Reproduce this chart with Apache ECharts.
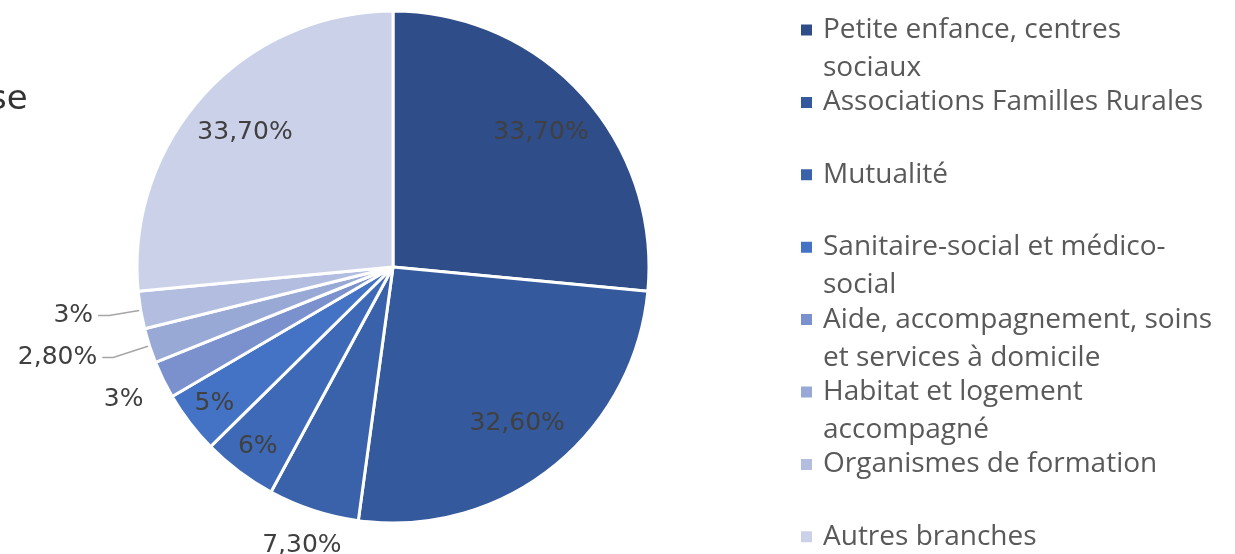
<!DOCTYPE html>
<html>
<head>
<meta charset="utf-8">
<script src="https://cdn.jsdelivr.net/npm/echarts@6/dist/echarts.min.js"></script>
<style>
  html, body { margin: 0; padding: 0; background: #fff; }
  #chart { width: 1235px; height: 554px; }
</style>
</head>
<body>
<div id="chart"></div>
<script>
// slices, clockwise from 12 o'clock
var names = [
    'Petite enfance, centres sociaux',
    'Associations Familles Rurales',
    'Mutualité',
    '',
    'Sanitaire-social et médico-social',
    'Aide, accompagnement, soins et services à domicile',
    'Habitat et logement accompagné',
    'Organismes de formation',
    'Autres branches'
];
var values = [33.7, 32.6, 7.3, 6, 5, 3, 2.8, 3, 33.7];

var legendNames = [
    'Petite enfance, centres sociaux',
    'Associations Familles Rurales',
    'Mutualité',
    'Sanitaire-social et médico-social',
    'Aide, accompagnement, soins et services à domicile',
    'Habitat et logement accompagné',
    'Organismes de formation',
    'Autres branches'
];
// blank first line + text + second line: the middle line sits on the marker
var legendLabels = [
    ' \nPetite enfance, centres\nsociaux',
    ' \nAssociations Familles Rurales\n ',
    ' \nMutualité\n ',
    ' \nSanitaire-social et médico-\nsocial',
    ' \nAide, accompagnement, soins\net services à domicile',
    ' \nHabitat et logement\naccompagné',
    ' \nOrganismes de formation\n ',
    ' \nAutres branches\n '
];

var colors = ['#2f4d88', '#34599c', '#3a62aa', '#3d69b6', '#4472c4', '#7a91cd', '#98a9d6', '#b2bde0', '#cbd1e9'];

// label placement groups (transparent rings carry the labels)
var labelRings = [
    { idx: [0, 1, 8], radius: [180, 214] },
    { idx: [3, 4], radius: [206, 238] },
    { idx: [2], radius: [276, 304] },
    { idx: [5], radius: [284, 310] }
];
var lineIdx = [6, 7];
var lineLen = { 6: 38, 7: 32 };

function fmt(v) {
    if (v % 1 === 0) return v + '%';
    return v.toFixed(2).replace('.', ',') + '%';
}

var labelFont = {
    fontFamily: 'DejaVu Sans',
    fontSize: 25,
    color: '#404040',
    formatter: function (p) { return fmt(p.value); }
};

var chartDom = document.getElementById('chart');
var myChart = echarts.init(chartDom);

var mainData = values.map(function (v, i) {
    var d = { value: v, name: names[i], itemStyle: { color: colors[i] } };
    if (lineIdx.indexOf(i) >= 0) {
        d.label = { show: true };
        d.labelLine = { show: true, length: lineLen[i], length2: 11 };
    }
    return d;
});

var series = [
    {
        type: 'pie',
        center: [393, 267],
        radius: 256,
        startAngle: 90,
        avoidLabelOverlap: false,
        silent: true,
        itemStyle: { borderColor: '#fff', borderWidth: 3 },
        label: Object.assign({ show: false, position: 'outside', distanceToLabelLine: 5 }, labelFont),
        labelLine: { show: false, lineStyle: { color: '#a6a6a6', width: 1.5 } },
        data: mainData
    }
];

labelRings.forEach(function (ring) {
    series.push({
        type: 'pie',
        center: [393, 267],
        radius: ring.radius,
        startAngle: 90,
        silent: true,
        legendHoverLink: false,
        itemStyle: { color: 'rgba(0,0,0,0)', borderWidth: 0 },
        label: Object.assign({ position: 'inside' }, labelFont),
        labelLine: { show: false },
        data: values.map(function (v, i) {
            return { value: v, name: names[i], label: { show: ring.idx.indexOf(i) >= 0 } };
        })
    });
});

var option = {
    animation: false,
    title: {
        text: 'se',
        left: -11,
        top: 83,
        padding: 0,
        textStyle: { fontFamily: 'DejaVu Sans', fontSize: 34, fontWeight: 'normal', color: '#333' }
    },
    legend: {
        orient: 'vertical',
        left: 799,
        top: -27,
        height: 800,
        padding: 0,
        itemWidth: 13,
        itemHeight: 13,
        itemGap: -41.6,
        icon: 'rect',
        selectedMode: false,
        data: legendNames,
        formatter: function (name) {
            return legendLabels[legendNames.indexOf(name)];
        },
        textStyle: {
            fontFamily: 'Open Sans',
            fontSize: 28,
            color: '#595959',
            lineHeight: 38,
            padding: [0, 0, 0, 5]
        }
    },
    series: series
};

option && myChart.setOption(option);
</script>
</body>
</html>
